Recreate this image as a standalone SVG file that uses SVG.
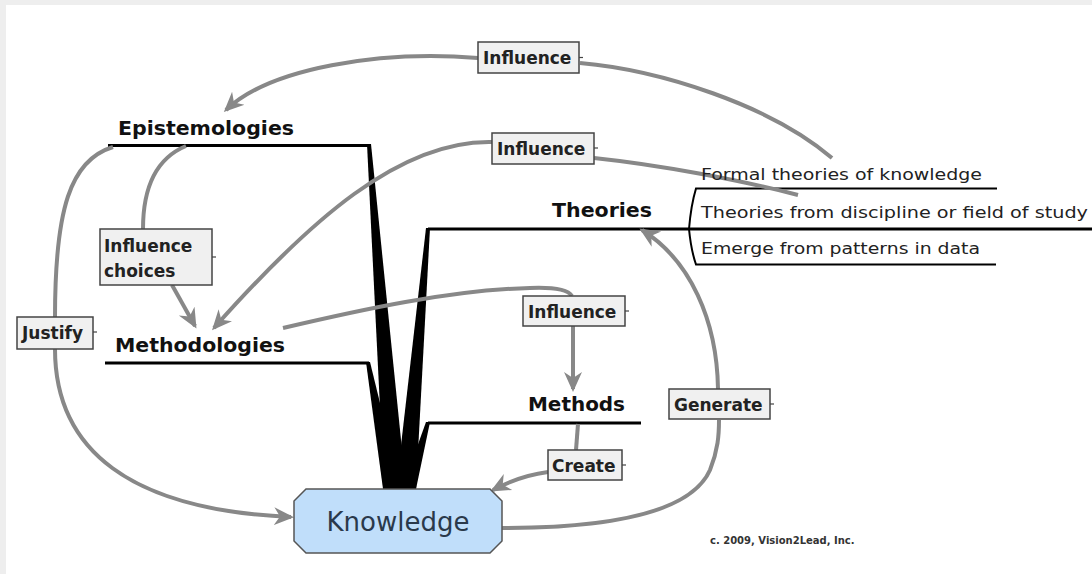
<svg xmlns="http://www.w3.org/2000/svg" width="1092" height="574" viewBox="0 0 1092 574">
<style>
.bg{fill:#ffffff}
.band{fill:#eeeeee}
.ul{stroke:#000;stroke-width:3;fill:none}
.trunk{fill:#000}
.con{stroke:#888;stroke-width:4;fill:none}
.lbl{fill:#f0f0f0;stroke:#444;stroke-width:1.5}
.tick{stroke:#444;stroke-width:1.2}
.lt{font-family:"DejaVu Sans",Verdana,sans-serif;font-weight:bold;font-size:17px;fill:#222}
.title{font-family:"DejaVu Sans",Verdana,sans-serif;font-weight:bold;font-size:20px;fill:#111}
.sub{font-family:"DejaVu Sans",Verdana,sans-serif;font-size:16px;fill:#222}
.kn{fill:#c0defa;stroke:#555;stroke-width:1.5}
.knt{font-family:"DejaVu Sans",Verdana,sans-serif;font-size:26px;fill:#2a394b}
.copy{font-family:"DejaVu Sans",Verdana,sans-serif;font-size:10px;font-weight:bold;fill:#333}
</style>
<defs>
<marker id="arr" viewBox="0 0 20 20" refX="17" refY="10" markerWidth="20" markerHeight="20" orient="auto" markerUnits="userSpaceOnUse">
<path d="M0,1 L20,10 L0,19 L6,10 z" fill="#888"/>
</marker>
</defs>
<rect class="bg" x="0" y="0" width="1092" height="574"/>
<rect class="band" x="0" y="0" width="1092" height="5"/>
<rect class="band" x="0" y="0" width="6" height="574"/>

<g id="branches">
<polygon class="trunk" points="367,144 371,144 406,489 384,489"/>
<polygon class="trunk" points="426,228 430,228 416,489 396,489"/>
<polygon class="trunk" points="366,362 370,362 401,489 383,489"/>
<polygon class="trunk" points="426,422 430,422 416,489 402,489"/>
<line class="ul" x1="108" y1="145.5" x2="370" y2="145.5"/>
<line class="ul" x1="105" y1="363" x2="369" y2="363"/>
<line class="ul" x1="428" y1="229" x2="1092" y2="229"/>
<line class="ul" x1="428" y1="423" x2="641" y2="423"/>
<path d="M997,188.5 L696,188.5 Q691,205 689,229" stroke="#000" stroke-width="2" fill="none"/>
<path d="M996,264.5 L696,264.5 Q691,250 689,229" stroke="#000" stroke-width="2" fill="none"/>
</g>

<g id="connectors">
<path class="con" d="M832,158 C770,105 660,70 580,63"/>
<path class="con" d="M478,58 C380,50 270,68 226,110" marker-end="url(#arr)"/>
<path class="con" d="M798,195 C740,180 660,165 594,158"/>
<path class="con" d="M492,142 C400,140 310,220 214,328" marker-end="url(#arr)"/>
<path class="con" d="M186,146 C157,158 143,185 143,229"/>
<path class="con" d="M172,285 L195,326" marker-end="url(#arr)"/>
<path class="con" d="M113,147 C70,160 55,210 55,317"/>
<path class="con" d="M55,349 C55,450 130,510 291,517" marker-end="url(#arr)"/>
<path class="con" d="M283,328 C360,310 450,290 530,288 C555,287 568,290 572,296"/>
<path class="con" d="M573,326 L573,389" marker-end="url(#arr)"/>
<path class="con" d="M502,528 C600,528 690,515 710,470 C718,450 719,435 719,420"/>
<path class="con" d="M718,389 C717,320 690,260 642,230" marker-end="url(#arr)"/>
<path class="con" d="M578,424 L576,450"/>
<path class="con" d="M548,472 C525,475 508,482 493,490" marker-end="url(#arr)"/>
</g>

<g id="epistemologies">
<text class="title" x="118" y="135" textLength="176" lengthAdjust="spacingAndGlyphs">Epistemologies</text>
</g>
<g id="methodologies">
<text class="title" x="115" y="352" textLength="170" lengthAdjust="spacingAndGlyphs">Methodologies</text>
</g>
<g id="theories">
<text class="title" x="552" y="217" textLength="100" lengthAdjust="spacingAndGlyphs">Theories</text>
</g>
<g id="methods">
<text class="title" x="528" y="411" textLength="97" lengthAdjust="spacingAndGlyphs">Methods</text>
</g>
<g id="theory-formal">
<text class="sub" x="701" y="180" textLength="281" lengthAdjust="spacingAndGlyphs">Formal theories of knowledge</text>
</g>
<g id="theory-discipline">
<text class="sub" x="701" y="218" textLength="387" lengthAdjust="spacingAndGlyphs">Theories from discipline or field of study</text>
</g>
<g id="theory-emerge">
<text class="sub" x="701" y="254" textLength="279" lengthAdjust="spacingAndGlyphs">Emerge from patterns in data</text>
</g>

<g id="knowledge">
<polygon class="kn" points="306,489 490,489 502,501 502,541 490,553 306,553 294,541 294,501"/>
<text class="knt" x="398" y="531" text-anchor="middle">Knowledge</text>
</g>

<g id="label-influence-top">
<rect class="lbl" x="478" y="42" width="101" height="31"/>
<line class="tick" x1="579" y1="57.5" x2="583" y2="57.5"/>
<text class="lt" x="483" y="64">Influence</text>
</g>
<g id="label-influence-mid">
<rect class="lbl" x="492" y="133" width="102" height="31"/>
<line class="tick" x1="594" y1="148" x2="598" y2="148"/>
<text class="lt" x="497" y="155">Influence</text>
</g>
<g id="label-influence-choices">
<rect class="lbl" x="100" y="229" width="112" height="56"/>
<line class="tick" x1="212" y1="257" x2="216" y2="257"/>
<text class="lt" x="104" y="252">Influence</text>
<text class="lt" x="104" y="277">choices</text>
</g>
<g id="label-justify">
<rect class="lbl" x="17" y="317" width="76" height="32"/>
<line class="tick" x1="93" y1="332" x2="97" y2="332"/>
<text class="lt" x="22" y="339">Justify</text>
</g>
<g id="label-influence-methods">
<rect class="lbl" x="523" y="296" width="102" height="30"/>
<line class="tick" x1="625" y1="311" x2="629" y2="311"/>
<text class="lt" x="528" y="318">Influence</text>
</g>
<g id="label-generate">
<rect class="lbl" x="669" y="389" width="101" height="30"/>
<line class="tick" x1="770" y1="404" x2="774" y2="404"/>
<text class="lt" x="674" y="411">Generate</text>
</g>
<g id="label-create">
<rect class="lbl" x="548" y="450" width="74" height="30"/>
<line class="tick" x1="622" y1="465" x2="626" y2="465"/>
<text class="lt" x="552" y="472">Create</text>
</g>

<text class="copy" x="710" y="544">c. 2009, Vision2Lead, Inc.</text>
</svg>
